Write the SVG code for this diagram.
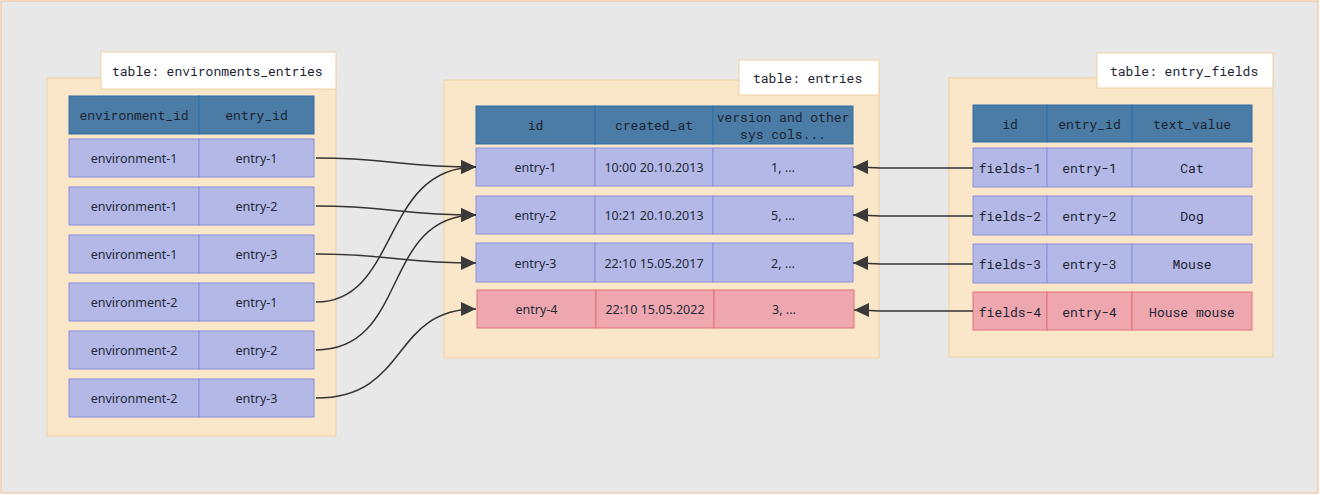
<svg xmlns="http://www.w3.org/2000/svg" width="1320" height="495" viewBox="0 0 1320 495">
<style>
.bg{fill:#e8e8e8;stroke:#f2cdb0;stroke-width:1.5}
.box{fill:#fae7c9;stroke:#f0cfa3;stroke-width:1}
.lbl{fill:#ffffff;stroke:#f0cfa3;stroke-width:1}
.hd{fill:#4b7ca6;stroke:#2f6fa8;stroke-width:1}
.row{fill:#b4b8e7;stroke:#8b90dc;stroke-width:1}
.red{fill:#efa7af;stroke:#e2717d;stroke-width:1}
.mono{font-family:"Roboto Mono","DejaVu Sans Mono","Liberation Mono",monospace;font-size:13px;fill:#1c2433;text-anchor:middle;dominant-baseline:central}
.sans{font-family:"Noto Sans","Open Sans",sans-serif;font-size:12.5px;fill:#222a38;text-anchor:middle;dominant-baseline:central}
.tl{text-anchor:start}
.con{fill:none;stroke:#333333;stroke-width:1.5}
</style>
<defs>
<marker id="ah" markerUnits="userSpaceOnUse" markerWidth="16" markerHeight="14" refX="15" refY="7" orient="auto">
<path d="M0,0 L15,7 L0,14 z" fill="#3a3a3a"/>
</marker>
</defs>
<rect class="bg" x="1" y="1" width="1317" height="492"/>

<g id="table-environments_entries">
<rect class="box" x="47" y="78" width="289" height="358"/>
<rect class="lbl" x="101" y="52" width="235" height="37"/>
<text class="mono tl" x="112" y="71">table: environments_entries</text>
<rect class="hd" x="69" y="96" width="130" height="38"/>
<rect class="hd" x="199" y="96" width="115" height="38"/>
<text class="mono" x="134" y="115">environment_id</text>
<text class="mono" x="256.5" y="115">entry_id</text>
<rect class="row" x="69" y="139" width="130" height="38"/><rect class="row" x="199" y="139" width="115" height="38"/>
<text class="sans" x="134" y="158">environment-1</text><text class="sans" x="256.5" y="158">entry-1</text>
<rect class="row" x="69" y="187" width="130" height="38"/><rect class="row" x="199" y="187" width="115" height="38"/>
<text class="sans" x="134" y="206">environment-1</text><text class="sans" x="256.5" y="206">entry-2</text>
<rect class="row" x="69" y="235" width="130" height="38"/><rect class="row" x="199" y="235" width="115" height="38"/>
<text class="sans" x="134" y="254">environment-1</text><text class="sans" x="256.5" y="254">entry-3</text>
<rect class="row" x="69" y="283" width="130" height="38"/><rect class="row" x="199" y="283" width="115" height="38"/>
<text class="sans" x="134" y="302">environment-2</text><text class="sans" x="256.5" y="302">entry-1</text>
<rect class="row" x="69" y="331" width="130" height="38"/><rect class="row" x="199" y="331" width="115" height="38"/>
<text class="sans" x="134" y="350">environment-2</text><text class="sans" x="256.5" y="350">entry-2</text>
<rect class="row" x="69" y="379" width="130" height="38"/><rect class="row" x="199" y="379" width="115" height="38"/>
<text class="sans" x="134" y="398">environment-2</text><text class="sans" x="256.5" y="398">entry-3</text>
</g>

<g id="table-entries">
<rect class="box" x="444" y="80" width="435" height="278"/>
<rect class="lbl" x="739" y="60" width="140" height="35"/>
<text class="mono tl" x="753" y="78">table: entries</text>
<rect class="hd" x="476" y="106" width="119" height="38"/>
<rect class="hd" x="595" y="106" width="118" height="38"/>
<rect class="hd" x="713" y="106" width="140" height="38"/>
<text class="mono" x="535.5" y="125">id</text>
<text class="mono" x="654" y="125">created_at</text>
<text class="mono" x="783" y="117">version and other</text>
<text class="mono" x="783" y="134">sys cols...</text>
<rect class="row" x="476" y="148" width="119" height="38"/><rect class="row" x="595" y="148" width="118" height="38"/><rect class="row" x="713" y="148" width="140" height="38"/>
<text class="sans" x="535.5" y="167">entry-1</text><text class="sans" x="654" y="167">10:00 20.10.2013</text><text class="sans" x="783" y="167">1, ...</text>
<rect class="row" x="476" y="196" width="119" height="38"/><rect class="row" x="595" y="196" width="118" height="38"/><rect class="row" x="713" y="196" width="140" height="38"/>
<text class="sans" x="535.5" y="215">entry-2</text><text class="sans" x="654" y="215">10:21 20.10.2013</text><text class="sans" x="783" y="215">5, ...</text>
<rect class="row" x="476" y="243" width="119" height="39"/><rect class="row" x="595" y="243" width="118" height="39"/><rect class="row" x="713" y="243" width="140" height="39"/>
<text class="sans" x="535.5" y="263">entry-3</text><text class="sans" x="654" y="263">22:10 15.05.2017</text><text class="sans" x="783" y="263">2, ...</text>
<rect class="red" x="477" y="290" width="119" height="38"/><rect class="red" x="596" y="290" width="118" height="38"/><rect class="red" x="714" y="290" width="140" height="38"/>
<text class="sans" x="536.5" y="309">entry-4</text><text class="sans" x="655" y="309">22:10 15.05.2022</text><text class="sans" x="784" y="309">3, ...</text>
</g>

<g id="table-entry_fields">
<rect class="box" x="949" y="78" width="324" height="279"/>
<rect class="lbl" x="1097" y="53" width="176" height="35"/>
<text class="mono tl" x="1110" y="71">table: entry_fields</text>
<rect class="hd" x="973" y="105" width="74" height="37"/>
<rect class="hd" x="1047" y="105" width="85" height="37"/>
<rect class="hd" x="1132" y="105" width="120" height="37"/>
<text class="mono" x="1010" y="124">id</text>
<text class="mono" x="1089.5" y="124">entry_id</text>
<text class="mono" x="1192" y="124">text_value</text>
<rect class="row" x="973" y="148" width="74" height="39"/><rect class="row" x="1047" y="148" width="85" height="39"/><rect class="row" x="1132" y="148" width="120" height="39"/>
<text class="mono" x="1010" y="168">fields-1</text><text class="mono" x="1089.5" y="168">entry-1</text><text class="mono" x="1192" y="168">Cat</text>
<rect class="row" x="973" y="196" width="74" height="39"/><rect class="row" x="1047" y="196" width="85" height="39"/><rect class="row" x="1132" y="196" width="120" height="39"/>
<text class="mono" x="1010" y="216">fields-2</text><text class="mono" x="1089.5" y="216">entry-2</text><text class="mono" x="1192" y="216">Dog</text>
<rect class="row" x="973" y="244" width="74" height="39"/><rect class="row" x="1047" y="244" width="85" height="39"/><rect class="row" x="1132" y="244" width="120" height="39"/>
<text class="mono" x="1010" y="264">fields-3</text><text class="mono" x="1089.5" y="264">entry-3</text><text class="mono" x="1192" y="264">Mouse</text>
<rect class="red" x="973" y="292" width="74" height="38"/><rect class="red" x="1047" y="292" width="85" height="38"/><rect class="red" x="1132" y="292" width="120" height="38"/>
<text class="mono" x="1010" y="312">fields-4</text><text class="mono" x="1089.5" y="312">entry-4</text><text class="mono" x="1192" y="312">House mouse</text>
</g>

<g id="connectors">
<path class="con" marker-end="url(#ah)" d="M316 158 C 390 158, 400 167, 476 167"/>
<path class="con" marker-end="url(#ah)" d="M316 206 C 390 206, 400 215, 476 215"/>
<path class="con" marker-end="url(#ah)" d="M316 254 C 390 254, 400 263, 476 263"/>
<path class="con" marker-end="url(#ah)" d="M316 302 C 400 302, 380 167, 476 167"/>
<path class="con" marker-end="url(#ah)" d="M316 350 C 410 350, 380 215, 476 215"/>
<path class="con" marker-end="url(#ah)" d="M316 398 C 410 398, 390 309, 476 309"/>
<path class="con" marker-end="url(#ah)" d="M973 168 L 890 168 C 870 168, 870 167, 853 167"/>
<path class="con" marker-end="url(#ah)" d="M973 216 L 890 216 C 870 216, 870 215, 853 215"/>
<path class="con" marker-end="url(#ah)" d="M973 264 L 890 264 C 870 264, 870 263, 853 263"/>
<path class="con" marker-end="url(#ah)" d="M973 311 L 890 311 C 870 311, 870 310, 854 310"/>
</g>
</svg>
